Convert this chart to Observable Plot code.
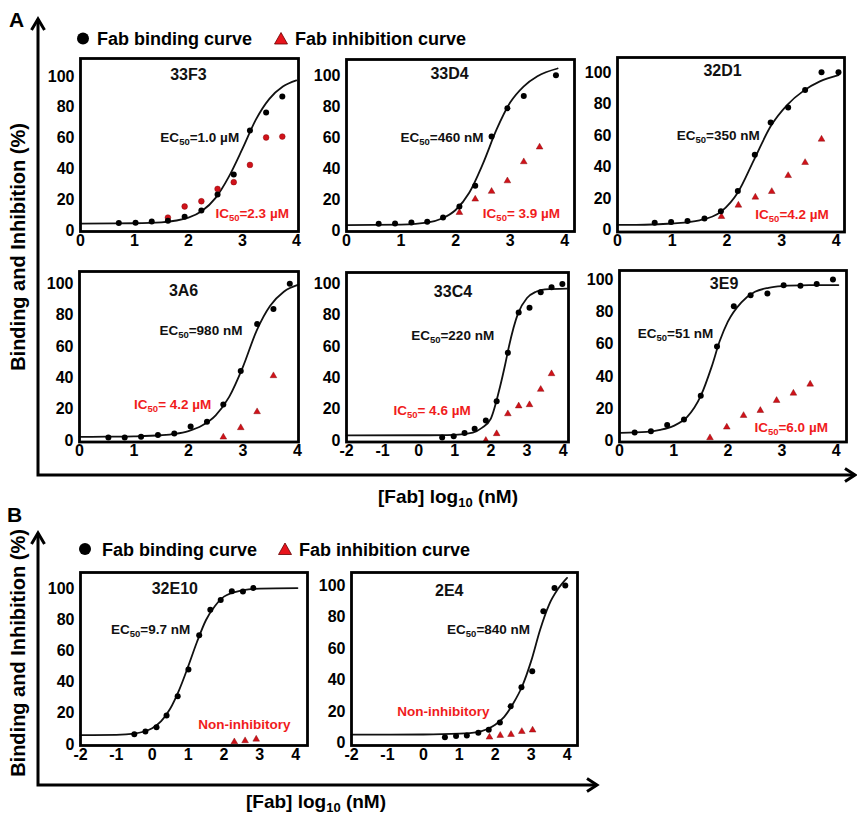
<!DOCTYPE html>
<html><head><meta charset="utf-8">
<script src="https://cdn.jsdelivr.net/npm/d3@7"></script>
<script src="https://cdn.jsdelivr.net/npm/@observablehq/plot@0.6"></script>
<style>
body{margin:0;background:#fff;}
#fig{position:relative;width:857px;height:815px;overflow:hidden;background:#fff;font-family:"Liberation Sans",Arial,sans-serif;}
</style></head><body><div id="fig"></div>
<script>
// ---------- DATA : [log10 nM, %] ----------
const bind_33F3 = [[0.71,4.8],[1.02,5.0],[1.32,5.8],[1.62,6.3],[1.93,8.9],[2.24,13],[2.54,23.4],[2.84,36.4],[3.14,65],[3.44,76.6],[3.74,87]];
const inhib_33F3 = [[1.62,8.4],[1.93,15.6],[2.24,19],[2.54,27],[2.84,31.4],[3.14,42.6],[3.44,60.4],[3.74,61]];
const fit_33F3 = [[0,4.5],[1,4.7],[1.5,5.3],[2,8.3],[2.25,12.6],[2.5,21],[2.75,35],[3,53],[3.25,72],[3.5,85.5],[3.75,93.5],[4.0,97.5]];

const bind_33D4 = [[0.59,4.3],[0.89,4.5],[1.19,5.2],[1.48,5.6],[1.77,8.4],[2.07,15.5],[2.36,28.8],[2.66,60.6],[2.95,78.9],[3.25,86.7],[3.84,100.2]];
const inhib_33D4 = [[2.07,11.6],[2.36,20.2],[2.66,25.2],[2.95,32],[3.25,44.3],[3.54,53.8]];
const fit_33D4 = [[0,3.5],[1,3.8],[1.5,5.2],[1.75,7.7],[2,13.2],[2.25,24.3],[2.5,43],[2.75,65],[3,82.5],[3.25,93],[3.5,99.5],[3.87,104.5]];

const bind_32D1 = [[0.68,4.7],[0.98,5.3],[1.28,5.9],[1.59,7.4],[1.89,12.1],[2.2,25],[2.51,47.9],[2.8,68.4],[3.12,78],[3.43,89],[3.73,100.4],[4.04,100.4]];
const inhib_32D1 = [[1.9,8.7],[2.21,15.9],[2.52,21],[2.82,24.6],[3.12,34.7],[3.43,43],[3.73,57.8]];
const fit_32D1 = [[0,3.4],[0.5,3.5],[1,4.3],[1.5,6.3],[1.9,12],[2.2,24],[2.5,45],[2.8,66],[3.1,79.5],[3.4,88.5],[3.7,94.5],[4.04,98.5]];

const bind_3A6 = [[0.53,1.9],[0.83,1.9],[1.13,2.3],[1.44,3.4],[1.74,4.5],[2.04,8.9],[2.34,11.9],[2.64,23],[2.96,44.3],[3.26,74.3],[3.56,84],[3.86,100]];
const inhib_3A6 = [[2.64,2.1],[2.96,8.1],[3.26,18.3],[3.56,41.3]];
const fit_3A6 = [[0,2.3],[0.5,2.4],[1,2.6],[1.5,3.3],[1.75,4.2],[2,6],[2.25,9.5],[2.5,16],[2.75,28],[3,47],[3.25,70],[3.5,86],[3.75,95],[4.02,99.5]];

const bind_33C4 = [[0.65,1.9],[0.97,2.6],[1.27,4.7],[1.55,7.4],[1.86,12.8],[2.16,25.1],[2.47,56],[2.77,81.7],[3.07,84.7],[3.38,94.7],[3.68,97.9],[3.98,100]];
const inhib_33C4 = [[1.86,0],[2.16,4.3],[2.47,17],[2.77,22],[3.07,22.8],[3.38,32.6],[3.68,42.6]];
const fit_33C4 = [[-2,3.2],[0,3.3],[1,3.6],[1.5,5],[1.75,8],[2,14],[2.25,34],[2.4,49],[2.5,60],[2.75,81],[3,91],[3.25,95],[3.5,96.5],[4.1,97]];

const bind_3E9 = [[0.28,5.4],[0.58,6.2],[0.88,10.1],[1.19,13.4],[1.5,28.2],[1.8,58.6],[2.11,83.5],[2.42,90.3],[2.73,91.5],[3.03,96.5],[3.34,96.3],[3.64,97.3],[3.94,100.2]];
const inhib_3E9 = [[1.67,2.1],[1.98,8.7],[2.29,15.9],[2.6,19],[2.9,25.2],[3.21,29.7],[3.52,35.3]];
const fit_3E9 = [[0.02,5.2],[0.5,5.8],[0.75,7],[1,9.5],[1.25,15],[1.5,28],[1.7,46],[1.85,62],[2,74],[2.25,86],[2.5,92.5],[2.75,95],[3,96],[3.5,96.6],[4.04,96.7]];

const bind_32E10 = [[-0.5,6.6],[-0.19,8.4],[0.12,11.1],[0.4,18.6],[0.71,31],[1.01,48.2],[1.31,70.2],[1.62,86.5],[1.91,92.9],[2.22,98.5],[2.53,98.3],[2.82,100.6]];
const inhib_32E10 = [[2.29,1.7],[2.59,2.4],[2.9,3.4]];
const fit_32E10 = [[-2,6],[-1,6.2],[-0.5,7],[-0.25,8.2],[0,10.5],[0.25,15],[0.5,23],[0.75,35],[1,50],[1.25,66],[1.5,80],[1.75,89],[2,95],[2.5,99],[3,100.2],[4.05,100.5]];

const bind_2E4 = [[0.6,3.6],[0.91,4.3],[1.21,4.7],[1.53,6.4],[1.82,8.3],[2.13,13],[2.43,23.2],[2.73,35.3],[3.03,45.5],[3.34,83.8],[3.65,98.5],[3.95,100.2]];
const inhib_2E4 = [[1.84,3.6],[2.14,4.7],[2.44,5.3],[2.74,7.2],[3.04,8.1]];
const fit_2E4 = [[-2,5.2],[0,5.3],[1,5.8],[1.5,6.8],[1.75,8.5],[2,11.5],[2.25,16.5],[2.5,25],[2.75,36],[3,52],[3.25,72],[3.5,88],[3.75,98],[4,105]];

const yTicks = [0,20,40,60,80,100];
const xTicks0 = [0,1,2,3,4];
const xTicksNeg = [-2,-1,0,1,2,3,4];

// annotation texts: [x, y, text]
const titles = {"33F3":[2.0,101,"33F3"],"33D4":[1.89,101,"33D4"],"32D1":[1.92,101,"32D1"],"3A6":[1.91,95.7,"3A6"],"33C4":[0.95,94.7,"33C4"],"3E9":[1.93,97.3,"3E9"],"32E10":[0.63,100,"32E10"],"2E4":[0.72,96.6,"2E4"]};
const ecLabels = {"33F3":[2.94,60,"EC50=1.0 µM"],"33D4":[2.51,60,"EC50=460 nM"],"32D1":[2.6,60,"EC50=350 nM"],"3A6":[2.99,70,"EC50=980 nM"],"33C4":[2.09,67,"EC50=220 nM"],"3E9":[1.73,66.4,"EC50=51 nM"],"32E10":[1.06,73.9,"EC50=9.7 nM"],"2E4":[2.97,72.3,"EC50=840 nM"]};
const icLabels = {"33F3":[2.5,11,"IC50=2.3 µM","start"],"33D4":[2.5,11,"IC50= 3.9 µM","start"],"32D1":[2.52,10,"IC50=4.2 µM","start"],"3A6":[2.42,23,"IC50= 4.2 µM","end"],"33C4":[1.44,19,"IC50= 4.6 µM","end"],"3E9":[2.49,8.2,"IC50=6.0 µM","start"],"32E10":[2.57,12.6,"Non-inhibitory","middle"],"2E4":[0.56,20,"Non-inhibitory","middle"]};

// ---------- LAYOUT ----------
const panels = [
  {id:"33F3", bind:bind_33F3, inhib:inhib_33F3, fit:fit_33F3, sym:"circle", L:80, R:298, T:58, B:231, xd:[0,4.04], yd:[-0.65,111.7], xt:xTicks0},
  {id:"33D4", bind:bind_33D4, inhib:inhib_33D4, fit:fit_33D4, sym:"triangle", L:346, R:574, T:59, B:231, xd:[0,4.18], yd:[-0.65,110.3], xt:xTicks0},
  {id:"32D1", bind:bind_32D1, inhib:inhib_32D1, fit:fit_32D1, sym:"triangle", L:617, R:844, T:57, B:231.5, xd:[0,4.15], yd:[-1.1,109.7], xt:xTicks0},
  {id:"3A6", bind:bind_3A6, inhib:inhib_3A6, fit:fit_3A6, sym:"triangle", L:79, R:298, T:271, B:441.5, xd:[0,4.02], yd:[-1.0,107.9], xt:xTicks0},
  {id:"33C4", bind:bind_33C4, inhib:inhib_33C4, fit:fit_33C4, sym:"triangle", L:346, R:568, T:272, B:441.5, xd:[-2,4.15], yd:[-1.0,107.3], xt:xTicksNeg},
  {id:"3E9", bind:bind_3E9, inhib:inhib_3E9, fit:fit_3E9, sym:"triangle", L:619, R:846, T:270, B:441.5, xd:[0,4.19], yd:[-0.5,105.7], xt:xTicks0},
  {id:"32E10", bind:bind_32E10, inhib:inhib_32E10, fit:fit_32E10, sym:"triangle", L:80, R:307, T:572, B:745, xd:[-2,4.33], yd:[-0.64,110.5], xt:xTicksNeg},
  {id:"2E4", bind:bind_2E4, inhib:inhib_2E4, fit:fit_2E4, sym:"triangle", L:351, R:577, T:572, B:745, xd:[-2,4.29], yd:[-1.7,108.4], xt:xTicksNeg}
];

const FONT = "Liberation Sans, Arial, sans-serif";
const RED_TEXT = "#f01c1c";
const RED_MARK = "#d0121a";
const NS = "http://www.w3.org/2000/svg";
const fig = document.getElementById("fig");

function subscriptify(svg){
  svg.querySelectorAll("text").forEach(t => {
    if (t.children.length) return;
    const m = t.textContent.match(/^(EC|IC)50(.*)$/);
    if (!m) return;
    t.textContent = "";
    const a = document.createElementNS(NS,"tspan"); a.textContent = m[1];
    const b = document.createElementNS(NS,"tspan"); b.textContent = "50"; b.setAttribute("font-size","9.5"); b.setAttribute("dy","3");
    const c = document.createElementNS(NS,"tspan"); c.textContent = m[2]; c.setAttribute("dy","-3");
    t.append(a,b,c);
  });
}

const X = d => d[0], Y = d => d[1];
panels.forEach(p => {
  const mL = 48, mR = 12, mT = 8, mB = 28;
  const w = p.R - p.L, h = p.B - p.T;
  const ic = icLabels[p.id];
  const svg = Plot.plot({
    width: w + mL + mR, height: h + mT + mB,
    marginLeft: mL, marginRight: mR, marginTop: mT, marginBottom: mB,
    x: {domain: p.xd},
    y: {domain: p.yd},
    style: {fontFamily: FONT, fontSize: "16px", fontWeight: "bold", color: "#000", background: "transparent", overflow: "visible"},
    marks: [
      Plot.axisX(p.xt, {tickSize: 0, tickPadding: 3, tickFormat: d => String(d), label: null, fontSize: 16, fontWeight: "bold"}),
      Plot.axisY(yTicks, {tickSize: 0, tickPadding: 6, tickFormat: d => String(d), label: null, fontSize: 16, fontWeight: "bold"}),
      Plot.line(p.fit, {x: X, y: Y, curve: "monotone-x", stroke: "#111", strokeWidth: 1.8}),
      Plot.dot(p.inhib, {x: X, y: Y, symbol: p.sym, r: p.sym === "circle" ? 2.9 : 2.5, fill: RED_MARK, stroke: "#7a0000", strokeWidth: 0.4}),
      Plot.dot(p.bind, {x: X, y: Y, r: 3, fill: "#000"}),
      Plot.text([titles[p.id]], {x: X, y: Y, text: d => d[2], fontSize: 16, fontWeight: "bold", fill: "#111"}),
      Plot.text([ecLabels[p.id]], {x: X, y: Y, text: d => d[2], textAnchor: "end", fontSize: 13.5, fontWeight: "bold", fill: "#111"}),
      Plot.text([ic], {x: X, y: Y, text: d => d[2], textAnchor: ic[3], fontSize: 13.5, fontWeight: "bold", fill: RED_TEXT}),
      Plot.frame({stroke: "#000", strokeWidth: 2.8})
    ]
  });
  subscriptify(svg);
  svg.style.position = "absolute";
  svg.style.left = (p.L - mL) + "px";
  svg.style.top = (p.T - mT) + "px";
  fig.appendChild(svg);
});

// ---------- OVERLAY: arrows, legends, labels ----------
const ov = d3.select(fig).append("svg")
  .attr("width", 857).attr("height", 815)
  .style("position", "absolute").style("left", "0px").style("top", "0px")
  .attr("font-family", FONT).attr("font-weight", "bold");

const ax = ov.append("g").attr("stroke", "#000").attr("stroke-width", 3).attr("fill", "none").attr("stroke-linejoin", "miter");
ax.append("path").attr("d", "M38,19 L38,475 L855,475");
ax.append("path").attr("d", "M31.5,30 L38,19 L44.5,30");
ax.append("path").attr("d", "M845,468.5 L855,475 L845,481.5");
ax.append("path").attr("d", "M38,533 L38,785 L597,785");
ax.append("path").attr("d", "M31.5,544 L38,533 L44.5,544");
ax.append("path").attr("d", "M587,778.5 L597,785 L587,791.5");

ov.append("text").attr("x", 9).attr("y", 27).attr("font-size", 21).text("A");
ov.append("text").attr("x", 7).attr("y", 522).attr("font-size", 21).text("B");

function yLabel(cy){
  ov.append("text").attr("transform", `translate(25,${cy}) rotate(-90)`).attr("text-anchor", "middle")
    .attr("font-size", 20).text("Binding and Inhibition (%)");
}
yLabel(247); yLabel(653);

function xLabel(cx, by){
  const t = ov.append("text").attr("x", cx).attr("y", by).attr("text-anchor", "middle").attr("font-size", 19);
  t.append("tspan").text("[Fab] log");
  t.append("tspan").attr("font-size", 13).attr("dy", 4).text("10");
  t.append("tspan").attr("dy", -4).text(" (nM)");
}
xLabel(448, 503); xLabel(316, 808);

function legend(cx, cy, tx, triX, ty){
  ov.append("circle").attr("cx", cx).attr("cy", cy).attr("r", 6).attr("fill", "#000");
  ov.append("text").attr("x", tx).attr("y", ty).attr("font-size", 18).text("Fab binding curve");
  ov.append("path").attr("d", `M${triX-6.5},${cy+5.5} L${triX+6.5},${cy+5.5} L${triX},${cy-6} Z`)
    .attr("fill", "#e8141c").attr("stroke", "#600").attr("stroke-width", 0.8);
  ov.append("text").attr("x", triX + 14).attr("y", ty).attr("font-size", 18).text("Fab inhibition curve");
}
legend(83, 38.5, 97, 281, 45);
legend(85, 549, 102, 285, 556);
</script>
</body></html>
